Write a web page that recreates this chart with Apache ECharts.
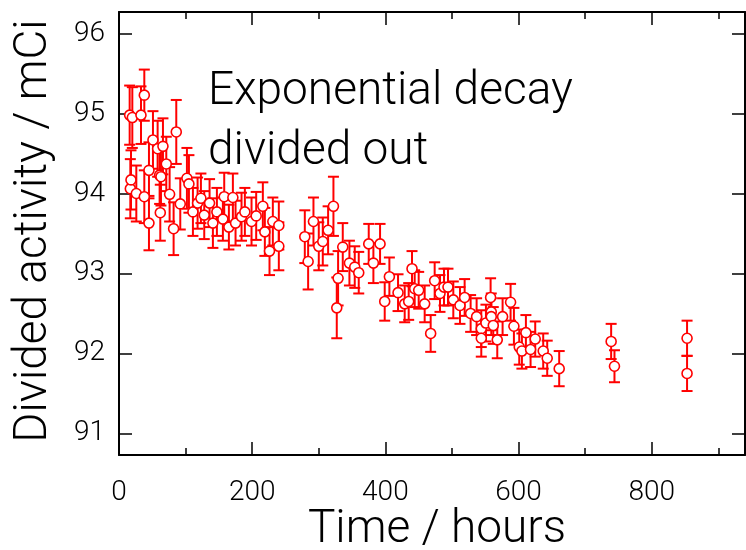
<!DOCTYPE html>
<html>
<head>
<meta charset="utf-8">
<script src="https://cdn.jsdelivr.net/npm/echarts@6/dist/echarts.min.js"></script>
<style>
html, body { margin: 0; padding: 0; background: #fff; }
#chart { width: 746px; height: 550px; }
</style>
</head>
<body>
<div id="chart"></div>
<script>
// time in hours, divided activity in mCi, one-sigma error
var hours = [16, 17, 18, 20, 26, 33, 38, 38, 45, 45, 51, 58, 61, 62, 63, 66, 71, 76, 82, 86, 92,
	102, 105, 111, 118, 123, 128, 136, 141, 147, 156, 158, 165, 171, 175, 184, 189, 199,
	206, 216, 219, 226, 231, 240, 240, 279, 284, 292, 300, 306, 314, 322, 327, 329, 336,
	346, 354, 360, 375, 382, 392, 399, 406, 419, 429, 435, 440, 444, 450, 459, 468, 474,
	482, 488, 494, 502, 512, 519, 528, 537, 544, 544, 551, 558, 559, 559, 562, 568, 576,
	588, 593, 601, 605, 611, 618, 625, 637, 643, 661, 739, 744, 853, 853];
var activity = [94.98, 94.06, 94.17, 94.95, 94.00, 94.98, 95.23, 93.96, 93.63, 94.29, 94.67,
	94.56, 94.23, 93.76, 94.21, 94.59, 94.37, 93.99, 93.56, 94.77, 93.87,
	94.19, 94.12, 93.77, 93.88, 93.94, 93.73, 93.88, 93.63, 93.77, 93.68, 93.96, 93.58,
	93.95, 93.63, 93.71, 93.77, 93.65,
	93.72, 93.84, 93.52, 93.28, 93.65, 93.60, 93.34, 93.46, 93.15, 93.65, 93.34, 93.40,
	93.54, 93.84, 92.57, 92.94, 93.33,
	93.13, 93.08, 93.01, 93.37, 93.13, 93.37, 92.65, 92.96, 92.76, 92.62, 92.65, 93.06,
	92.81, 92.79, 92.62, 92.25, 92.91,
	92.75, 92.83, 92.83, 92.67, 92.60, 92.70, 92.50, 92.46, 92.31, 92.19, 92.38, 92.70,
	92.52, 92.46, 92.35, 92.17, 92.46,
	92.64, 92.34, 92.08, 92.03, 92.26, 92.05, 92.18, 92.03, 91.94, 91.81, 92.15, 91.84,
	92.19, 91.75];
var errors = [0.37, 0.37, 0.37, 0.38, 0.35, 0.36, 0.32, 0.33, 0.34, 0.35, 0.36,
	0.35, 0.36, 0.35, 0.36, 0.35, 0.34, 0.34, 0.33, 0.4, 0.32,
	0.38, 0.36, 0.3, 0.32, 0.31, 0.3, 0.3, 0.31, 0.3, 0.27, 0.3, 0.28,
	0.3, 0.28, 0.3, 0.3, 0.3,
	0.3, 0.3, 0.3, 0.3, 0.3, 0.3, 0.3, 0.33, 0.35, 0.3, 0.3, 0.3,
	0.3, 0.37, 0.38, 0.34, 0.3,
	0.28, 0.26, 0.26, 0.25, 0.25, 0.25, 0.24, 0.24, 0.23, 0.23, 0.23, 0.22,
	0.23, 0.23, 0.23, 0.23, 0.23,
	0.23, 0.23, 0.23, 0.23, 0.23, 0.23, 0.23, 0.23, 0.23, 0.23, 0.23, 0.24,
	0.23, 0.23, 0.23, 0.23, 0.23,
	0.23, 0.23, 0.22, 0.22, 0.22, 0.22, 0.22, 0.22, 0.22, 0.22, 0.22, 0.2,
	0.22, 0.22];
var noteLines = ['Exponential decay', 'divided out'];

var RED = '#ff0000';
var FONT = 'Roboto, "Noto Sans", sans-serif';

var points = [];
var bars = [];
for (var i = 0; i < hours.length; i++) {
	points.push([hours[i], activity[i]]);
	bars.push([hours[i], activity[i] - errors[i], activity[i] + errors[i]]);
}

function renderErrorBar(params, api) {
	var lo = api.coord([api.value(0), api.value(1)]);
	var hi = api.coord([api.value(0), api.value(2)]);
	var cap = 5.5;
	var style = { stroke: RED, lineWidth: 2 };
	return {
		type: 'group',
		children: [
			{ type: 'line', shape: { x1: lo[0], y1: lo[1], x2: hi[0], y2: hi[1] }, style: style },
			{ type: 'line', shape: { x1: lo[0] - cap, y1: lo[1], x2: lo[0] + cap, y2: lo[1] }, style: style },
			{ type: 'line', shape: { x1: hi[0] - cap, y1: hi[1], x2: hi[0] + cap, y2: hi[1] }, style: style }
		]
	};
}

var frameLine = { show: true, onZero: false, lineStyle: { color: '#000', width: 2 } };
var majorTick = { show: true, inside: true, length: 13, lineStyle: { color: '#000', width: 1.5 } };
var minorTick = { show: true, splitNumber: 2, length: 7, lineStyle: { color: '#000', width: 1.5 } };

var chart = echarts.init(document.getElementById('chart'));
chart.setOption({
	animation: false,
	backgroundColor: '#fff',
	grid: { left: 119, right: 1, top: 12, bottom: 95 },
	xAxis: [{
		type: 'value', min: 0, max: 940, interval: 200, position: 'bottom',
		axisLine: frameLine, axisTick: majorTick, minorTick: minorTick,
		splitLine: { show: false },
		axisLabel: { margin: 24, color: '#000', fontSize: 28, fontFamily: FONT, fontWeight: 300, showMaxLabel: false }
	}, {
		type: 'value', min: 0, max: 940, interval: 200, position: 'top',
		axisLine: frameLine, axisTick: majorTick, minorTick: minorTick,
		splitLine: { show: false }, axisLabel: { show: false }
	}],
	yAxis: [{
		type: 'value', min: 90.73, max: 96.27, position: 'left',
		axisLine: frameLine, axisTick: majorTick,
		splitLine: { show: false },
		axisLabel: { margin: 14, color: '#000', fontSize: 28, fontFamily: FONT, fontWeight: 300,
			showMinLabel: false, showMaxLabel: false }
	}, {
		type: 'value', min: 90.73, max: 96.27, position: 'right',
		axisLine: frameLine, axisTick: majorTick,
		splitLine: { show: false }, axisLabel: { show: false }
	}],
	graphic: [
		{ type: 'text', x: 208, y: 92, style: { text: noteLines[0], fill: '#000', font: '300 46px ' + FONT, verticalAlign: 'middle' } },
		{ type: 'text', x: 208, y: 152, style: { text: noteLines[1], fill: '#000', font: '300 46px ' + FONT, verticalAlign: 'middle' } },
		{ type: 'text', x: 437, y: 530, style: { text: 'Time / hours', fill: '#000', font: '300 46px ' + FONT, align: 'center', verticalAlign: 'middle' } },
		{ type: 'text', x: 34, y: 231, rotation: Math.PI / 2, style: { text: 'Divided activity / mCi', fill: '#000', font: '300 46px ' + FONT, align: 'center', verticalAlign: 'middle' } }
	],
	series: [{
		type: 'custom',
		renderItem: renderErrorBar,
		encode: { x: 0, y: [1, 2] },
		data: bars,
		z: 2
	}, {
		type: 'scatter',
		symbol: 'circle',
		symbolSize: 10,
		itemStyle: { color: '#fff', borderColor: RED, borderWidth: 1.6, opacity: 1 },
		data: points,
		z: 3
	}]
});
</script>
</body>
</html>
